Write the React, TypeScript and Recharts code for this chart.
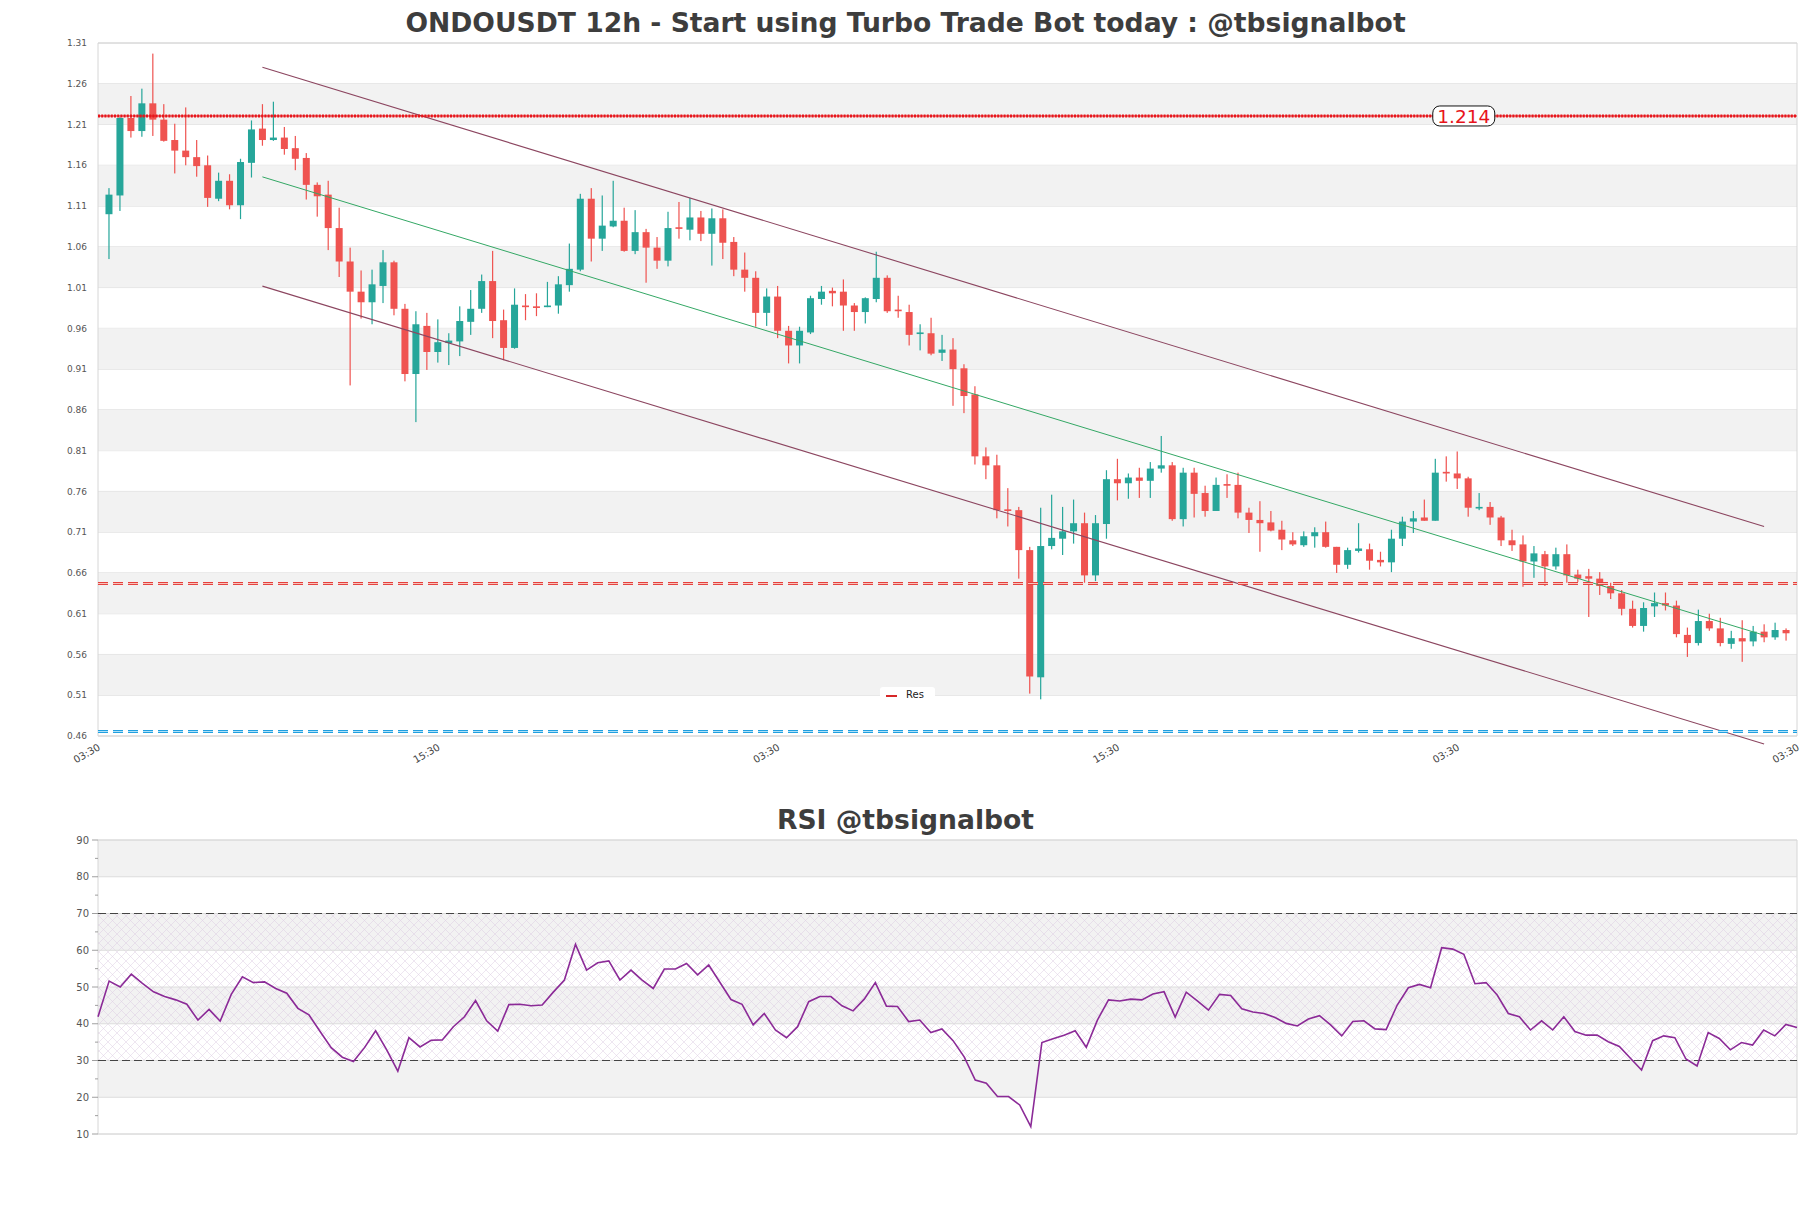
import React from "react";
import {
  Bar,
  CartesianGrid,
  ComposedChart,
  Line,
  ReferenceArea,
  ReferenceDot,
  ReferenceLine,
  XAxis,
  YAxis
} from "recharts";

// 12h candles
const opens = [
  1.100, 1.123, 1.218, 1.202, 1.236, 1.216, 1.191, 1.178, 1.170, 1.160,
  1.119, 1.141, 1.111, 1.163, 1.205, 1.191, 1.194, 1.181, 1.169, 1.136,
  1.124, 1.083, 1.042, 1.005, 0.992, 1.012, 1.041, 0.984, 0.904, 0.963,
  0.931, 0.942, 0.944, 0.968, 0.984, 1.018, 0.970, 0.936, 0.988, 0.987,
  0.986, 0.988, 1.013, 1.032, 1.119, 1.070, 1.085, 1.092, 1.055, 1.078,
  1.059, 1.043, 1.084, 1.081, 1.096, 1.076, 1.095, 1.066, 1.032, 1.022,
  0.979, 0.999, 0.957, 0.939, 0.955, 0.996, 1.006, 1.005, 0.988, 0.980,
  0.996, 1.022, 0.983, 0.980, 0.953, 0.954, 0.930, 0.934, 0.911, 0.879,
  0.803, 0.792, 0.738, 0.737, 0.688, 0.532, 0.693, 0.702, 0.711, 0.721,
  0.657, 0.720, 0.775, 0.770, 0.777, 0.773, 0.788, 0.792, 0.726, 0.783,
  0.758, 0.736, 0.769, 0.768, 0.734, 0.725, 0.722, 0.713, 0.700, 0.694,
  0.705, 0.710, 0.692, 0.670, 0.687, 0.689, 0.676, 0.673, 0.702, 0.723,
  0.728, 0.724, 0.784, 0.782, 0.776, 0.739, 0.741, 0.728, 0.700, 0.695,
  0.674, 0.683, 0.668, 0.683, 0.658, 0.656, 0.653, 0.644, 0.635, 0.616,
  0.595, 0.619, 0.623, 0.620, 0.584, 0.574, 0.601, 0.592, 0.573, 0.580,
  0.576, 0.588, 0.581, 0.590
];
const highs = [
  1.132, 1.219, 1.245, 1.254, 1.297, 1.235, 1.211, 1.231, 1.191, 1.172,
  1.151, 1.149, 1.168, 1.215, 1.235, 1.238, 1.207, 1.196, 1.175, 1.139,
  1.141, 1.108, 1.059, 1.031, 1.032, 1.056, 1.043, 0.990, 0.981, 0.979,
  0.971, 0.954, 0.987, 1.007, 1.026, 1.055, 0.983, 1.009, 1.002, 1.003,
  1.017, 1.024, 1.064, 1.125, 1.132, 1.123, 1.141, 1.108, 1.105, 1.082,
  1.072, 1.103, 1.115, 1.120, 1.104, 1.107, 1.106, 1.072, 1.053, 1.030,
  1.009, 1.012, 0.963, 0.962, 1.000, 1.012, 1.010, 1.020, 0.991, 0.998,
  1.054, 1.025, 1.000, 0.989, 0.965, 0.973, 0.952, 0.948, 0.916, 0.889,
  0.814, 0.805, 0.764, 0.741, 0.692, 0.740, 0.756, 0.741, 0.750, 0.734,
  0.731, 0.786, 0.800, 0.782, 0.789, 0.796, 0.828, 0.796, 0.789, 0.789,
  0.767, 0.777, 0.781, 0.783, 0.740, 0.748, 0.736, 0.724, 0.710, 0.711,
  0.716, 0.723, 0.692, 0.691, 0.721, 0.696, 0.686, 0.713, 0.729, 0.736,
  0.750, 0.800, 0.803, 0.809, 0.778, 0.758, 0.747, 0.730, 0.713, 0.706,
  0.693, 0.687, 0.691, 0.695, 0.664, 0.665, 0.661, 0.648, 0.639, 0.626,
  0.624, 0.636, 0.636, 0.626, 0.593, 0.615, 0.610, 0.605, 0.589, 0.602,
  0.595, 0.597, 0.599, 0.592
];
const lows = [
  1.045, 1.104, 1.194, 1.195, 1.196, 1.189, 1.150, 1.160, 1.146, 1.109,
  1.116, 1.106, 1.094, 1.145, 1.184, 1.190, 1.173, 1.154, 1.118, 1.097,
  1.056, 1.023, 0.890, 0.972, 0.965, 0.991, 0.976, 0.895, 0.845, 0.909,
  0.918, 0.915, 0.926, 0.952, 0.979, 0.948, 0.921, 0.935, 0.970, 0.975,
  0.986, 0.978, 1.005, 1.030, 1.042, 1.055, 1.084, 1.054, 1.051, 1.016,
  1.033, 1.036, 1.070, 1.068, 1.067, 1.037, 1.045, 1.024, 1.005, 0.962,
  0.963, 0.948, 0.917, 0.917, 0.953, 0.989, 0.987, 0.957, 0.957, 0.966,
  0.992, 0.979, 0.973, 0.939, 0.933, 0.927, 0.920, 0.865, 0.856, 0.793,
  0.775, 0.727, 0.717, 0.653, 0.512, 0.505, 0.689, 0.682, 0.696, 0.648,
  0.650, 0.702, 0.749, 0.751, 0.752, 0.752, 0.783, 0.724, 0.717, 0.728,
  0.729, 0.736, 0.752, 0.727, 0.709, 0.686, 0.711, 0.688, 0.693, 0.692,
  0.691, 0.691, 0.660, 0.665, 0.685, 0.664, 0.668, 0.661, 0.693, 0.709,
  0.724, 0.724, 0.772, 0.763, 0.729, 0.737, 0.719, 0.693, 0.687, 0.643,
  0.654, 0.644, 0.664, 0.648, 0.649, 0.606, 0.633, 0.628, 0.608, 0.593,
  0.588, 0.606, 0.614, 0.581, 0.557, 0.571, 0.589, 0.570, 0.567, 0.551,
  0.570, 0.575, 0.578, 0.577
];
const closes = [
  1.124, 1.218, 1.202, 1.236, 1.216, 1.190, 1.178, 1.170, 1.159, 1.120,
  1.141, 1.111, 1.164, 1.204, 1.191, 1.194, 1.180, 1.168, 1.136, 1.122,
  1.083, 1.042, 1.005, 0.992, 1.014, 1.041, 0.984, 0.904, 0.965, 0.931,
  0.943, 0.945, 0.969, 0.984, 1.018, 0.969, 0.936, 0.989, 0.986, 0.985,
  0.988, 1.014, 1.033, 1.119, 1.070, 1.086, 1.092, 1.055, 1.078, 1.059,
  1.043, 1.083, 1.082, 1.096, 1.076, 1.095, 1.065, 1.032, 1.022, 0.979,
  0.999, 0.957, 0.939, 0.957, 0.997, 1.005, 1.003, 0.988, 0.980, 0.997,
  1.022, 0.981, 0.981, 0.952, 0.955, 0.929, 0.934, 0.910, 0.877, 0.803,
  0.792, 0.737, 0.736, 0.688, 0.533, 0.693, 0.703, 0.711, 0.721, 0.657,
  0.721, 0.775, 0.770, 0.777, 0.773, 0.788, 0.792, 0.726, 0.783, 0.757,
  0.736, 0.768, 0.767, 0.734, 0.725, 0.721, 0.712, 0.701, 0.695, 0.705,
  0.710, 0.692, 0.670, 0.688, 0.690, 0.675, 0.673, 0.702, 0.723, 0.727,
  0.724, 0.783, 0.782, 0.776, 0.740, 0.741, 0.728, 0.700, 0.694, 0.674,
  0.684, 0.668, 0.683, 0.657, 0.653, 0.653, 0.644, 0.635, 0.616, 0.595,
  0.617, 0.623, 0.620, 0.585, 0.574, 0.601, 0.592, 0.574, 0.580, 0.576,
  0.588, 0.581, 0.590, 0.586
];

const rsiValues = [
  41.9, 51.6, 50.0, 53.5, 51.0, 48.7, 47.4, 46.5, 45.3, 41.0,
  43.9, 40.7, 48.0, 52.8, 51.2, 51.4, 49.6, 48.3, 44.2, 42.4,
  37.9, 33.5, 30.9, 29.7, 33.5, 38.1, 32.9, 27.1, 36.2, 33.7,
  35.5, 35.6, 39.2, 41.9, 46.3, 40.8, 38.0, 45.2, 45.3, 44.9,
  45.1, 48.6, 51.9, 61.6, 54.6, 56.6, 57.1, 51.9, 54.6, 51.9,
  49.6, 54.9, 54.9, 56.4, 53.3, 56.0, 51.3, 46.6, 45.3, 39.7,
  42.8, 38.3, 36.2, 39.2, 46.0, 47.4, 47.4, 44.9, 43.5, 46.7,
  51.2, 44.8, 44.7, 40.6, 41.0, 37.6, 38.6, 35.4, 31.0, 24.7,
  23.8, 20.2, 20.2, 17.9, 12.0, 34.9, 35.9, 36.9, 38.1, 33.6,
  41.0, 46.5, 46.2, 46.7, 46.5, 48.1, 48.7, 41.8, 48.6, 46.2,
  43.7, 48.0, 47.7, 44.1, 43.2, 42.8, 41.7, 40.1, 39.4, 41.3,
  42.2, 39.7, 36.7, 40.6, 40.8, 38.6, 38.4, 45.1, 49.8, 50.7,
  49.8, 60.7, 60.3, 58.9, 50.9, 51.2, 47.8, 42.8, 41.9, 38.3,
  40.8, 38.3, 41.9, 37.9, 36.9, 36.9, 35.1, 33.8, 30.6, 27.4,
  35.4, 36.7, 36.2, 30.4, 28.5, 37.6, 36.0, 32.9, 34.9, 34.2,
  38.3, 36.7, 39.8, 39.0
];

const priceTicks = [
  0.46, 0.51, 0.56, 0.61, 0.66, 0.71, 0.76, 0.81, 0.86,
  0.91, 0.96, 1.01, 1.06, 1.11, 1.16, 1.21, 1.26, 1.31
];
const rsiTicks = [10, 20, 30, 40, 50, 60, 70, 80, 90];
const rsiMinorTicks = [10, 15, 20, 25, 30, 35, 40, 45, 50, 55, 60, 65, 70, 75, 80, 85, 90];
const timeTicks = [-1, 30, 61, 92, 123, 154];
const timeLabels = ["03:30", "15:30", "03:30", "15:30", "03:30", "03:30"];

const resistanceTop = 1.2205;
const resistanceTopLabel = "1.214";
const resistanceTopLabelAt = 123.6;
const resistanceMid = 0.647;
const supportLow = 0.4655;
const rsiUpper = 70;
const rsiLower = 30;

const channelUpper = [{ x: 14, y: 1.2803 }, { x: 151, y: 0.7169 }];
const channelMid = [{ x: 14, y: 1.1458 }, { x: 151, y: 0.5836 }];
const channelLower = [{ x: 14, y: 1.0118 }, { x: 151, y: 0.4502 }];

const legendLabel = "Res";
const title = "ONDOUSDT 12h - Start using Turbo Trade Bot today : @tbsignalbot";
const rsiTitle = "RSI @tbsignalbot";

const candles = opens.map((o, i) => ({
  i,
  o,
  h: highs[i],
  l: lows[i],
  c: closes[i],
  range: [lows[i], highs[i]]
}));
const rsiData = rsiValues.map((v, i) => ({ i, rsi: v }));

// every second gap between ticks is shaded
const priceBands = priceTicks.slice(0, -1).map((t, k) => [t, priceTicks[k + 1]]).filter((_, k) => k % 2 === 1);
const rsiBands = rsiTicks.slice(0, -1).map((t, k) => [t, rsiTicks[k + 1]]).filter((_, k) => k % 2 === 1);

const UP = "#26a69a";
const DOWN = "#ef5350";
const FONT = "'DejaVu Sans', sans-serif";

function Candle(props: any) {
  const { x, y, width, height, payload } = props;
  if (x == null || !payload) return null;
  const top = Math.min(y, y + height);
  const full = Math.abs(height);
  const span = payload.h - payload.l;
  const toY = (v: number) => (span > 0 ? top + ((payload.h - v) / span) * full : top);
  const color = payload.c >= payload.o ? UP : DOWN;
  const bodyTop = toY(Math.max(payload.o, payload.c));
  const bodyBottom = toY(Math.min(payload.o, payload.c));
  const cx = x + width / 2;
  return (
    <g>
      <rect x={cx - 0.6} y={top} width={1.2} height={full} fill={color} />
      <rect x={x} y={bodyTop} width={width} height={Math.max(bodyBottom - bodyTop, 1.3)} fill={color} />
    </g>
  );
}

function TimeTick(props: any) {
  const { x, y, payload } = props;
  const label = timeLabels[timeTicks.indexOf(payload.value)];
  return (
    <text
      x={x}
      y={y}
      dy={6}
      transform={`rotate(-30 ${x} ${y})`}
      textAnchor="end"
      fontSize={10}
      fill="#444"
      fontFamily={FONT}
    >
      {label}
    </text>
  );
}

function RsiTick(props: any) {
  const { x, y, payload } = props;
  const axisX = x + 9;
  const major = payload.value % 10 === 0;
  return (
    <g>
      <line x1={axisX - (major ? 6 : 3)} x2={axisX} y1={y} y2={y} stroke="#888" strokeWidth={0.8} />
      {major && (
        <text x={x} y={y} dy="0.35em" textAnchor="end" fontSize={10} fill="#555" fontFamily={FONT}>
          {payload.value}
        </text>
      )}
    </g>
  );
}

function PriceTag(props: any) {
  const { cx, cy } = props;
  if (cx == null) return null;
  return (
    <g>
      <rect x={cx - 31} y={cy - 10} width={62} height={20} rx={7} fill="#fff" stroke="#111" strokeWidth={1} />
      <text x={cx} y={cy} dy="0.36em" textAnchor="middle" fontSize={18.5} fill="#e8141b" fontFamily={FONT}>
        {resistanceTopLabel}
      </text>
    </g>
  );
}

const titleStyle: React.CSSProperties = {
  position: "absolute",
  left: 0,
  width: 1811,
  height: 46,
  lineHeight: "46px",
  textAlign: "center",
  fontSize: 26.6,
  fontWeight: "bold",
  color: "#3d3d3d"
};

export default function App() {
  return (
    <div style={{ position: "absolute", left: 0, top: 0, width: 1811, height: 1208, background: "#fff", fontFamily: FONT }}>
      <div style={{ position: "absolute", left: 0, top: 0 }}>
        <ComposedChart width={1811} height={790} data={candles} margin={{ top: 43, right: 14, bottom: 0, left: 0 }}>
          {priceBands.map(([a, b]) => (
            <ReferenceArea key={a} y1={a} y2={b} fill="#f2f2f2" fillOpacity={1} stroke="none" ifOverflow="hidden" />
          ))}
          <CartesianGrid vertical={false} stroke="#dcdcdc" />
          <XAxis
            dataKey="i"
            type="number"
            domain={[-1, 154]}
            ticks={timeTicks}
            interval={0}
            height={54}
            axisLine={false}
            tickLine={false}
            tick={<TimeTick />}
            allowDataOverflow
          />
          <YAxis
            type="number"
            domain={[0.46, 1.31]}
            ticks={priceTicks}
            interval={0}
            width={98}
            axisLine={false}
            tickLine={false}
            tickMargin={5}
            tick={{ fill: "#555", fontSize: 9, fontFamily: FONT }}
            tickFormatter={(v: number) => v.toFixed(2)}
            allowDataOverflow
          />
          <ReferenceArea y1={0.46} y2={1.31} fill="none" stroke="#d6d6d6" ifOverflow="visible" />
          <ReferenceLine segment={channelUpper} stroke="#8c4660" strokeWidth={1.1} ifOverflow="visible" />
          <ReferenceLine segment={channelMid} stroke="#34a865" strokeWidth={1} ifOverflow="visible" />
          <ReferenceLine segment={channelLower} stroke="#8c4660" strokeWidth={1.1} ifOverflow="visible" />
          <ReferenceLine y={resistanceTop} stroke="#d11" strokeWidth={1} />
          <ReferenceLine y={resistanceTop} stroke="#e8141b" strokeWidth={3} strokeDasharray="2 1.2" />
          <ReferenceLine y={resistanceMid} stroke="#e5403d" strokeWidth={3} strokeDasharray="10 5" />
          <ReferenceLine y={resistanceMid} stroke="#ffe9e0" strokeWidth={0.8} strokeDasharray="10 5" />
          <ReferenceLine y={supportLow} stroke="#1f9fe0" strokeWidth={3} strokeDasharray="10 5" />
          <ReferenceLine y={supportLow} stroke="#d8f4ff" strokeWidth={0.8} strokeDasharray="10 5" />
          <Bar dataKey="range" barSize={7} shape={Candle} isAnimationActive={false} />
          <ReferenceDot x={resistanceTopLabelAt} y={resistanceTop} shape={PriceTag} />
        </ComposedChart>
      </div>

      <div style={{ position: "absolute", left: 0, top: 790 }}>
        <ComposedChart width={1811} height={418} data={rsiData} margin={{ top: 50, right: 14, bottom: 74, left: 0 }}>
          <defs>
            <pattern id="rsiHatch" width={9} height={9} patternUnits="userSpaceOnUse">
              <path d="M0 0L9 9M9 0L0 9" stroke="#dccde2" strokeWidth={0.5} />
            </pattern>
          </defs>
          {rsiBands.map(([a, b]) => (
            <ReferenceArea key={a} y1={a} y2={b} fill="#f2f2f2" fillOpacity={1} stroke="none" />
          ))}
          {rsiTicks.map((v) => (
            <ReferenceLine key={v} y={v} stroke="#dcdcdc" />
          ))}
          <ReferenceArea y1={rsiLower} y2={rsiUpper} fill="url(#rsiHatch)" fillOpacity={1} stroke="none" />
          <XAxis dataKey="i" type="number" domain={[0, 153]} hide />
          <YAxis
            type="number"
            domain={[10, 90]}
            ticks={rsiMinorTicks}
            interval={0}
            width={98}
            axisLine={false}
            tickLine={false}
            tickMargin={3}
            tick={<RsiTick />}
          />
          <ReferenceLine y={rsiUpper} stroke="#444" strokeWidth={1.2} strokeDasharray="8 4" />
          <ReferenceLine y={rsiLower} stroke="#444" strokeWidth={1.2} strokeDasharray="8 4" />
          <ReferenceArea y1={10} y2={90} fill="none" stroke="#d6d6d6" />
          <Line dataKey="rsi" stroke="#8b2a97" strokeWidth={1.6} dot={false} isAnimationActive={false} />
        </ComposedChart>
      </div>

      <div style={{ ...titleStyle, top: 0 }}>{title}</div>
      <div style={{ ...titleStyle, top: 797 }}>{rsiTitle}</div>

      <div
        style={{
          position: "absolute",
          left: 880,
          top: 687,
          width: 55,
          height: 16,
          background: "#fff",
          borderRadius: 3
        }}
      >
        <div style={{ position: "absolute", left: 6, top: 8, width: 11, height: 2, background: "#d62728" }} />
        <div style={{ position: "absolute", left: 26, top: 0, lineHeight: "16px", fontSize: 10, color: "#222" }}>
          {legendLabel}
        </div>
      </div>
    </div>
  );
}
